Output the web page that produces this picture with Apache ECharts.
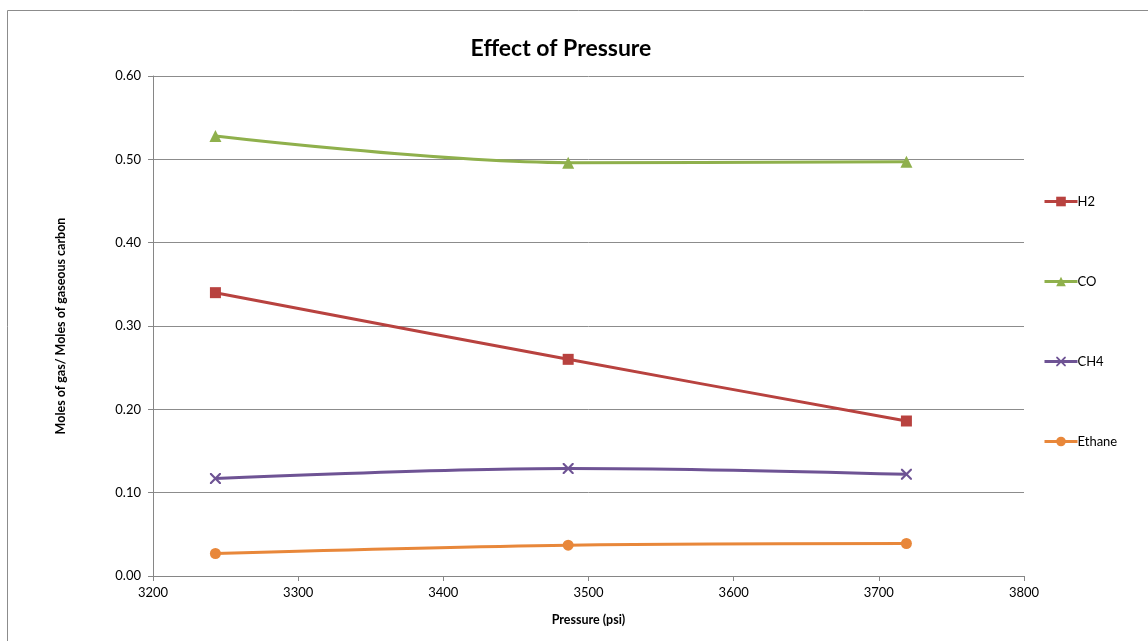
<!DOCTYPE html>
<html>
<head>
<meta charset="utf-8">
<script src="https://cdn.jsdelivr.net/npm/echarts@6/dist/echarts.min.js"></script>
<style>
  html, body { margin: 0; padding: 0; background: #fff; }
  #chart { width: 1148px; height: 641px; }
</style>
</head>
<body>
<div id="chart"></div>
<script>
// Pressure (psi) at which each run was made
const pressures = [3243, 3486, 3719];

// Moles of gas per mole of gaseous carbon
const h2 = [0.340, 0.260, 0.186];
const co = [0.528, 0.496, 0.497];
const ch4 = [0.117, 0.129, 0.122];
const ethane = [0.027, 0.037, 0.039];

const seriesNames = ['H2', 'CO', 'CH4', 'Ethane'];
const seriesColors = ['#B8423F', '#8FB04C', '#6E5394', '#E8873A'];

const yTicks = { min: 0, max: 0.6, interval: 0.1 };
const xTicks = { min: 3200, max: 3800, interval: 100 };

const FONT = 'Lato, "Open Sans", sans-serif';

// thin filled "x" cross marker
const crossPath = 'path://M0,0L1.4,0L5,3.6L8.6,0L10,0L10,1.4L6.4,5L10,8.6L10,10L8.6,10L5,6.4L1.4,10L0,10L0,8.6L3.6,5L0,1.4Z';
const symbols = ['rect', 'triangle', crossPath, 'circle'];
const symbolSizes = [11, 12, 11, 11];

function pairs(values) {
  return pressures.map((p, i) => [p, values[i]]);
}

const allValues = [h2, co, ch4, ethane];

const chart = echarts.init(document.getElementById('chart'));
chart.setOption({
  animation: false,
  backgroundColor: '#ffffff',
  title: {
    text: 'Effect of Pressure',
    left: 556,
    textAlign: 'center',
    top: 32,
    textStyle: { fontFamily: FONT, fontSize: 23, fontWeight: 'bold', color: '#000' }
  },
  graphic: [{
    type: 'rect',
    shape: { x: 7.5, y: 10.5, width: 1200, height: 700 },
    style: { fill: 'none', stroke: '#8c8c8c', lineWidth: 1 },
    silent: true
  }],
  grid: { left: 153, right: 124, top: 76, bottom: 65 },
  legend: {
    orient: 'vertical',
    left: 1038,
    top: 190,
    itemWidth: 33,
    itemHeight: 12,
    itemGap: 67,
    lineStyle: { width: 3 },
    textStyle: { fontFamily: FONT, fontSize: 13, color: '#000', padding: [0, 0, 0, -5] },
    data: seriesNames
  },
  xAxis: {
    type: 'value',
    min: xTicks.min,
    max: xTicks.max,
    interval: xTicks.interval,
    name: 'Pressure (psi)',
    nameLocation: 'middle',
    nameGap: 37,
    nameTextStyle: { fontFamily: FONT, fontSize: 12.5, fontWeight: 'bold', color: '#000' },
    axisLine: { lineStyle: { color: '#868686', width: 1 } },
    axisTick: { show: true, length: 5, lineStyle: { color: '#868686' } },
    axisLabel: { fontFamily: FONT, fontSize: 13, color: '#000', margin: 10,
      formatter: v => String(v) },
    splitLine: { show: false }
  },
  yAxis: {
    type: 'value',
    min: yTicks.min,
    max: yTicks.max,
    interval: yTicks.interval,
    name: 'Moles of gas/ Moles of gaseous carbon',
    nameLocation: 'middle',
    nameGap: 86,
    nameRotate: 90,
    nameTextStyle: { fontFamily: FONT, fontSize: 12.5, fontWeight: 'bold', color: '#000' },
    axisLine: { show: true, lineStyle: { color: '#868686', width: 1 } },
    axisTick: { show: true, length: 5, lineStyle: { color: '#868686' } },
    axisLabel: { fontFamily: FONT, fontSize: 13, color: '#000', margin: 12,
      formatter: v => v.toFixed(2) },
    splitLine: { lineStyle: { color: '#8c8c8c', width: 1 } }
  },
  series: seriesNames.map((name, i) => ({
    name: name,
    type: 'line',
    data: pairs(allValues[i]),
    smooth: 0.35,
    symbol: symbols[i],
    symbolSize: symbolSizes[i],
    showSymbol: true,
    lineStyle: { color: seriesColors[i], width: 3 },
    itemStyle: { color: seriesColors[i], borderWidth: 0 },
    z: 3
  }))
});
</script>
</body>
</html>
